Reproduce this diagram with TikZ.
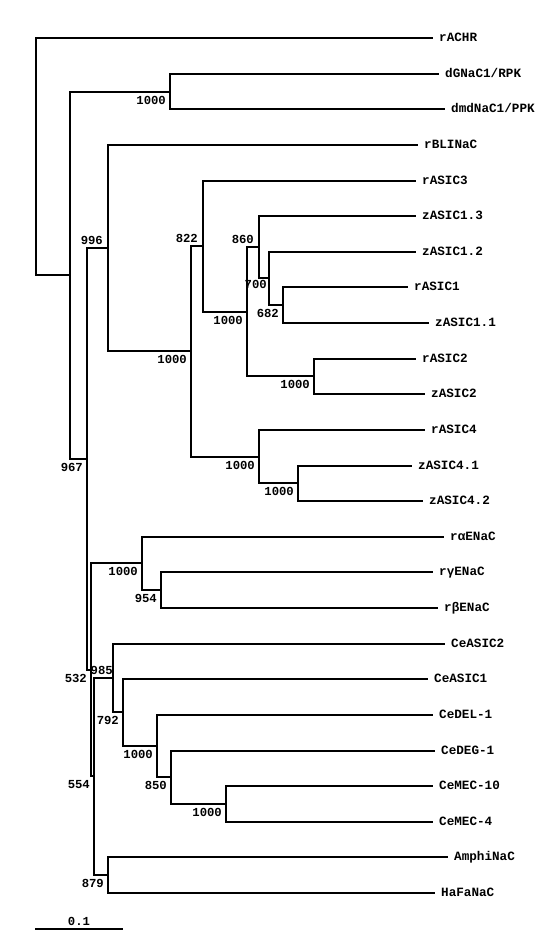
\documentclass[tikz,border=0pt]{standalone}
\usepackage{fontspec}
\setmonofont{Liberation Mono}
\begin{document}
\begin{tikzpicture}[x=1bp, y=-1bp,
  branch/.style={line width=1.8bp},
  leaf/.style={anchor=west, inner xsep=6pt, inner ysep=0pt, text height=7.2pt, text depth=0pt,
    font=\ttfamily\bfseries\fontsize{12.7}{14}\selectfont},
  boot/.style={anchor=east, inner sep=0pt, font=\ttfamily\bfseries\fontsize{12.3}{13}\selectfont},
  bootbelow/.style={boot, xshift=-4pt, yshift=-8.5pt},
  bootabove/.style={boot, xshift=-5pt, yshift=8pt}]
  \useasboundingbox (0,0) rectangle (556,942);

  % 叶节点（枝末端 x，等间距 y）
  \node[leaf] (rACHR) at (433,38) {rACHR};
  \node[leaf] (dGNaC) at (439,74) {dGNaC1/RPK};
  \node[leaf] (dmdNaC) at (445,109) {dmdNaC1/PPK};
  \node[leaf] (rBLINaC) at (418,145) {rBLINaC};
  \node[leaf] (rA3) at (416,181) {rASIC3};
  \node[leaf] (zA13) at (416,216) {zASIC1.3};
  \node[leaf] (zA12) at (416,252) {zASIC1.2};
  \node[leaf] (rA1) at (408,287) {rASIC1};
  \node[leaf] (zA11) at (429,323) {zASIC1.1};
  \node[leaf] (rA2) at (416,359) {rASIC2};
  \node[leaf] (zA2) at (425,394) {zASIC2};
  \node[leaf] (rA4) at (425,430) {rASIC4};
  \node[leaf] (zA41) at (412,466) {zASIC4.1};
  \node[leaf] (zA42) at (423,501) {zASIC4.2};
  \node[leaf] (raENaC) at (444,537) {rαENaC};
  \node[leaf] (rgENaC) at (433,572) {rγENaC};
  \node[leaf] (rbENaC) at (438,608) {rβENaC};
  \node[leaf] (CeASICb) at (445,644) {CeASIC2};
  \node[leaf] (CeASICa) at (428,679) {CeASIC1};
  \node[leaf] (CeDEL) at (433,715) {CeDEL-1};
  \node[leaf] (CeDEG) at (435,751) {CeDEG-1};
  \node[leaf] (CeMECx) at (433,786) {CeMEC-10};
  \node[leaf] (CeMECiv) at (433,822) {CeMEC-4};
  \node[leaf] (Amphi) at (448,857) {AmphiNaC};
  \node[leaf] (HaFa) at (435,893) {HaFaNaC};

  % 内部节点（分支点）
  \coordinate (root) at (36,156);
  \coordinate (nA) at (70,275);
  \coordinate (nRPK) at (170,92);
  \coordinate (n967) at (87,459);
  \coordinate (n996) at (108,248);
  \coordinate (nASIC) at (191,351);
  \coordinate (n822) at (203,246);
  \coordinate (nA12) at (247,312);
  \coordinate (n860) at (259,247);
  \coordinate (n700) at (269,278);
  \coordinate (n682) at (283,305);
  \coordinate (nA2) at (314,376);
  \coordinate (nA4) at (259,457);
  \coordinate (nA4b) at (298,483);
  \coordinate (n532) at (91,670);
  \coordinate (nENaC) at (142,563);
  \coordinate (n954) at (161,590);
  \coordinate (n554) at (94,776);
  \coordinate (n985) at (113,678);
  \coordinate (n792) at (123,712);
  \coordinate (nDEL) at (157,746);
  \coordinate (n850) at (171,777);
  \coordinate (nMEC) at (226,804);
  \coordinate (n879) at (108,875);

  % 树枝
  \draw[branch] (root) |- (rACHR.west) (root) |- (nA);
  \draw[branch] (nA) |- (nRPK) (nA) |- (n967);
  \draw[branch] (nRPK) |- (dGNaC.west) (nRPK) |- (dmdNaC.west);
  \draw[branch] (n967) |- (n996) (n967) |- (n532);
  \draw[branch] (n996) |- (rBLINaC.west) (n996) |- (nASIC);
  \draw[branch] (nASIC) |- (n822) (nASIC) |- (nA4);
  \draw[branch] (n822) |- (rA3.west) (n822) |- (nA12);
  \draw[branch] (nA12) |- (n860) (nA12) |- (nA2);
  \draw[branch] (n860) |- (zA13.west) (n860) |- (n700);
  \draw[branch] (n700) |- (zA12.west) (n700) |- (n682);
  \draw[branch] (n682) |- (rA1.west) (n682) |- (zA11.west);
  \draw[branch] (nA2) |- (rA2.west) (nA2) |- (zA2.west);
  \draw[branch] (nA4) |- (rA4.west) (nA4) |- (nA4b);
  \draw[branch] (nA4b) |- (zA41.west) (nA4b) |- (zA42.west);
  \draw[branch] (n532) |- (nENaC) (n532) |- (n554);
  \draw[branch] (nENaC) |- (raENaC.west) (nENaC) |- (n954);
  \draw[branch] (n954) |- (rgENaC.west) (n954) |- (rbENaC.west);
  \draw[branch] (n554) |- (n985) (n554) |- (n879);
  \draw[branch] (n985) |- (CeASICb.west) (n985) |- (n792);
  \draw[branch] (n792) |- (CeASICa.west) (n792) |- (nDEL);
  \draw[branch] (nDEL) |- (CeDEL.west) (nDEL) |- (n850);
  \draw[branch] (n850) |- (CeDEG.west) (n850) |- (nMEC);
  \draw[branch] (nMEC) |- (CeMECx.west) (nMEC) |- (CeMECiv.west);
  \draw[branch] (n879) |- (Amphi.west) (n879) |- (HaFa.west);

  % 自展值
  \node[bootbelow] (bRPK) at (nRPK) {1000};
  \node[bootabove] (b996) at (n996) {996};
  \node[bootbelow] (b967) at (n967) {967};
  \node[bootbelow] (bASIC) at (nASIC) {1000};
  \node[bootabove] (b822) at (n822) {822};
  \node[bootbelow] (bA12) at (nA12) {1000};
  \node[bootabove] (b860) at (n860) {860};
  \node[bootbelow, xshift=2pt, yshift=2pt] (b700) at (n700) {700};
  \node[bootbelow] (b682) at (n682) {682};
  \node[bootbelow] (bA2) at (nA2) {1000};
  \node[bootbelow] (bA4) at (nA4) {1000};
  \node[bootbelow] (bA4b) at (nA4b) {1000};
  \node[bootbelow] (b532) at (n532) {532};
  \node[bootbelow] (bENaC) at (nENaC) {1000};
  \node[bootbelow] (b954) at (n954) {954};
  \node[bootbelow] (b554) at (n554) {554};
  \node[bootabove, xshift=5pt] (b985) at (n985) {985};
  \node[bootbelow] (b792) at (n792) {792};
  \node[bootbelow] (bDEL) at (nDEL) {1000};
  \node[bootbelow] (b850) at (n850) {850};
  \node[bootbelow] (bMEC) at (nMEC) {1000};
  \node[bootbelow] (b879) at (n879) {879};

  % 标尺
  \coordinate (barL) at (35,929);
  \coordinate (barR) at (123,929);
  \draw[branch] (barL) -- (barR) node[boot, anchor=south, midway, above=3pt] (scale) {0.1};
\end{tikzpicture}
\end{document}
